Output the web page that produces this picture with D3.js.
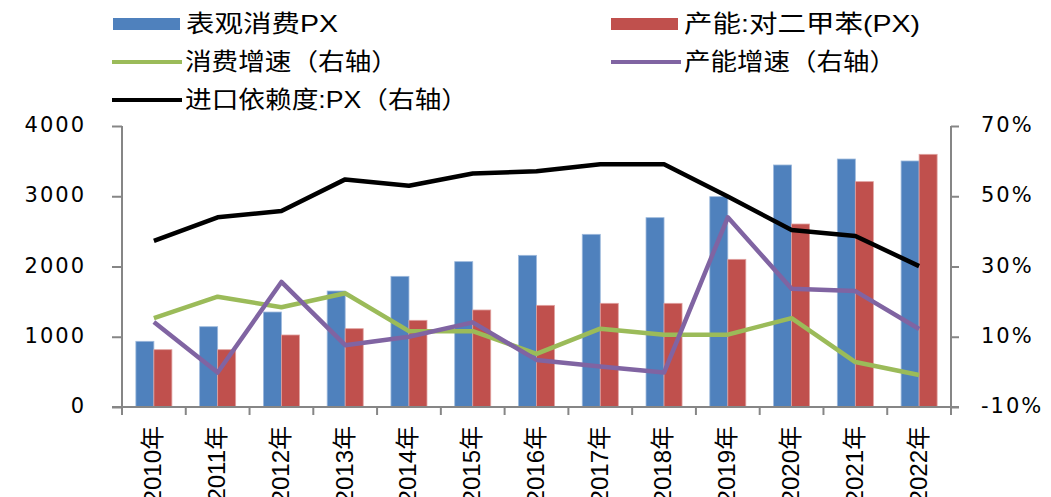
<!DOCTYPE html>
<meta charset="utf-8">
<script src="https://d3js.org/d3.v7.min.js"></script>
<style>
  body { margin: 0; background: #fff; }
  .axis path, .axis line { stroke: #868686; stroke-width: 2px; }
  .tick-label { font-family: "DejaVu Sans", Verdana, sans-serif; font-size: 21px; fill: #000; letter-spacing: 2px; }
  .xlabel { font-family: "Liberation Sans", Arial, "Noto Sans CJK SC", sans-serif; font-size: 24px; fill: #000; }
  .legend text { font-family: "Liberation Sans", "Noto Sans CJK SC", sans-serif; font-size: 24px; fill: #000; }
</style>
<body>
<div id="chart"></div>
<script>
  // data
  var years = ["2010年","2011年","2012年","2013年","2014年","2015年","2016年","2017年","2018年","2019年","2020年","2021年","2022年"];
  var consumption = [935, 1143, 1352, 1651, 1860, 2069, 2159, 2458, 2695, 2994, 3445, 3530, 3502];
  var capacity    = [816, 816, 1025, 1115, 1234, 1381, 1447, 1476, 1476, 2102, 2605, 3208, 3597];
  var consGrowth  = [15.3, 21.4, 18.4, 22.4, 11.6, 11.6, 5.1, 12.3, 10.6, 10.6, 15.3, 2.8, -0.9];
  var capGrowth   = [14.2, -0.2, 25.6, 7.6, 10.0, 14.1, 3.4, 1.5, -0.2, 44.0, 23.7, 23.0, 12.2];
  var importDep   = [37.3, 44.0, 45.8, 54.8, 53.0, 56.5, 57.1, 59.1, 59.1, 49.9, 40.4, 38.7, 30.1];
  var leftTicks = [0, 1000, 2000, 3000, 4000];
  var rightTicks = [-10, 10, 30, 50, 70];

  var width = 1051, height = 497;
  var plotLeft = 122, plotRight = 951, plotTop = 126, plotBottom = 407;

  var svg = d3.select("#chart").append("svg")
      .attr("width", width)
      .attr("height", height);

  var x0 = d3.scaleBand().domain(years).range([plotLeft, plotRight]);
  var x1 = d3.scaleBand().domain(["cons", "cap"]).range([0, x0.bandwidth()]).paddingOuter(0.77);
  var yL = d3.scaleLinear().domain([0, 4000]).range([plotBottom, plotTop]);
  var yR = d3.scaleLinear().domain([-10, 70]).range([plotBottom, plotTop]);

  // bars
  var barColor = {cons: "#4f81bd", cap: "#c0504d"};
  var barEdge = {cons: "#9db9dc", cap: "#e0a2a0"};
  [["cons", consumption], ["cap", capacity]].forEach(function(s) {
    svg.append("g").selectAll("rect")
      .data(s[1])
      .enter().append("rect")
        .attr("x", function(d, i) { return x0(years[i]) + x1(s[0]); })
        .attr("y", function(d) { return yL(d); })
        .attr("width", x1.bandwidth())
        .attr("height", function(d) { return yL(0) - yL(d); })
        .attr("fill", barColor[s[0]])
        .attr("stroke", barEdge[s[0]])
        .attr("stroke-width", 0.8);
  });

  // axes
  var gx = svg.append("g").attr("class", "axis")
      .attr("transform", "translate(0," + plotBottom + ")");
  gx.append("line").attr("x1", plotLeft - 10).attr("x2", plotRight + 8).attr("y1", 0).attr("y2", 0);
  gx.selectAll(".xt")
    .data(years.concat(["end"]))
    .enter().append("line")
      .attr("x1", function(d, i) { return plotLeft + i * x0.step(); })
      .attr("x2", function(d, i) { return plotLeft + i * x0.step(); })
      .attr("y1", 0).attr("y2", 8);

  var gl = svg.append("g").attr("class", "axis")
      .attr("transform", "translate(" + plotLeft + ",0)")
      .call(d3.axisLeft(yL).tickValues(leftTicks).tickSize(10).tickPadding(26).tickSizeOuter(0)
        .tickFormat(d3.format("d")));
  gl.select(".domain").attr("d", "M0," + plotTop + "V" + plotBottom);
  gl.selectAll("text").attr("class", "tick-label").attr("dy", "0.32em").attr("y", -1);

  var gr = svg.append("g").attr("class", "axis")
      .attr("transform", "translate(" + plotRight + ",0)")
      .call(d3.axisRight(yR).tickValues(rightTicks).tickSize(8).tickPadding(22).tickSizeOuter(0)
        .tickFormat(function(d) { return d + "%"; }));
  gr.select(".domain").attr("d", "M0," + plotTop + "V" + plotBottom);
  gr.selectAll("text").attr("class", "tick-label").attr("dy", "0.32em").attr("y", -1);

  // x labels
  svg.append("g").selectAll("text")
    .data(years)
    .enter().append("text")
      .attr("class", "xlabel")
      .attr("transform", function(d) { return "translate(" + (x0(d) + x0.bandwidth() / 2 - 1) + ",426) rotate(-90)"; })
      .attr("text-anchor", "end")
      .attr("dy", "0.35em")
      .text(function(d) { return d; });

  // lines
  var line = function(vals) {
    return d3.line()
      .x(function(d, i) { return x0(years[i]) + x0.bandwidth() / 2; })
      .y(function(d) { return yR(d); })(vals);
  };
  [[consGrowth, "#9bbb59"], [capGrowth, "#8064a2"], [importDep, "#000000"]].forEach(function(s) {
    svg.append("path")
      .attr("d", line(s[0]))
      .attr("fill", "none")
      .attr("stroke", s[1])
      .attr("stroke-width", 4.5)
      .attr("stroke-linejoin", "round");
  });

  // legend
  var legendItems = [
    {label: "表观消费PX", type: "rect", color: "#4f81bd", x: 113, y: 23, w: 152},
    {label: "产能:对二甲苯(PX)", type: "rect", color: "#c0504d", x: 611, y: 23, w: 236},
    {label: "消费增速（右轴）", type: "line", color: "#9bbb59", x: 112, y: 61, w: 213},
    {label: "产能增速（右轴）", type: "line", color: "#8064a2", x: 611, y: 61, w: 212},
    {label: "进口依赖度:PX（右轴）", type: "line", color: "#000000", x: 112, y: 99, w: 283}
  ];
  var lg = svg.append("g").attr("class", "legend").selectAll("g")
    .data(legendItems)
    .enter().append("g")
      .attr("transform", function(d) { return "translate(" + d.x + "," + d.y + ")"; });
  lg.filter(function(d) { return d.type == "rect"; }).append("rect")
      .attr("x", 0).attr("y", -5).attr("width", 67).attr("height", 12)
      .attr("fill", function(d) { return d.color; });
  lg.filter(function(d) { return d.type == "line"; }).append("line")
      .attr("x1", 0).attr("x2", 70).attr("y1", 1).attr("y2", 1)
      .attr("stroke", function(d) { return d.color; })
      .attr("stroke-width", 4);
  lg.append("text")
      .attr("x", 73)
      .attr("dy", "0.36em")
      .attr("textLength", function(d) { return d.w; })
      .attr("lengthAdjust", "spacingAndGlyphs")
      .text(function(d) { return d.label; });
</script>
</body>
